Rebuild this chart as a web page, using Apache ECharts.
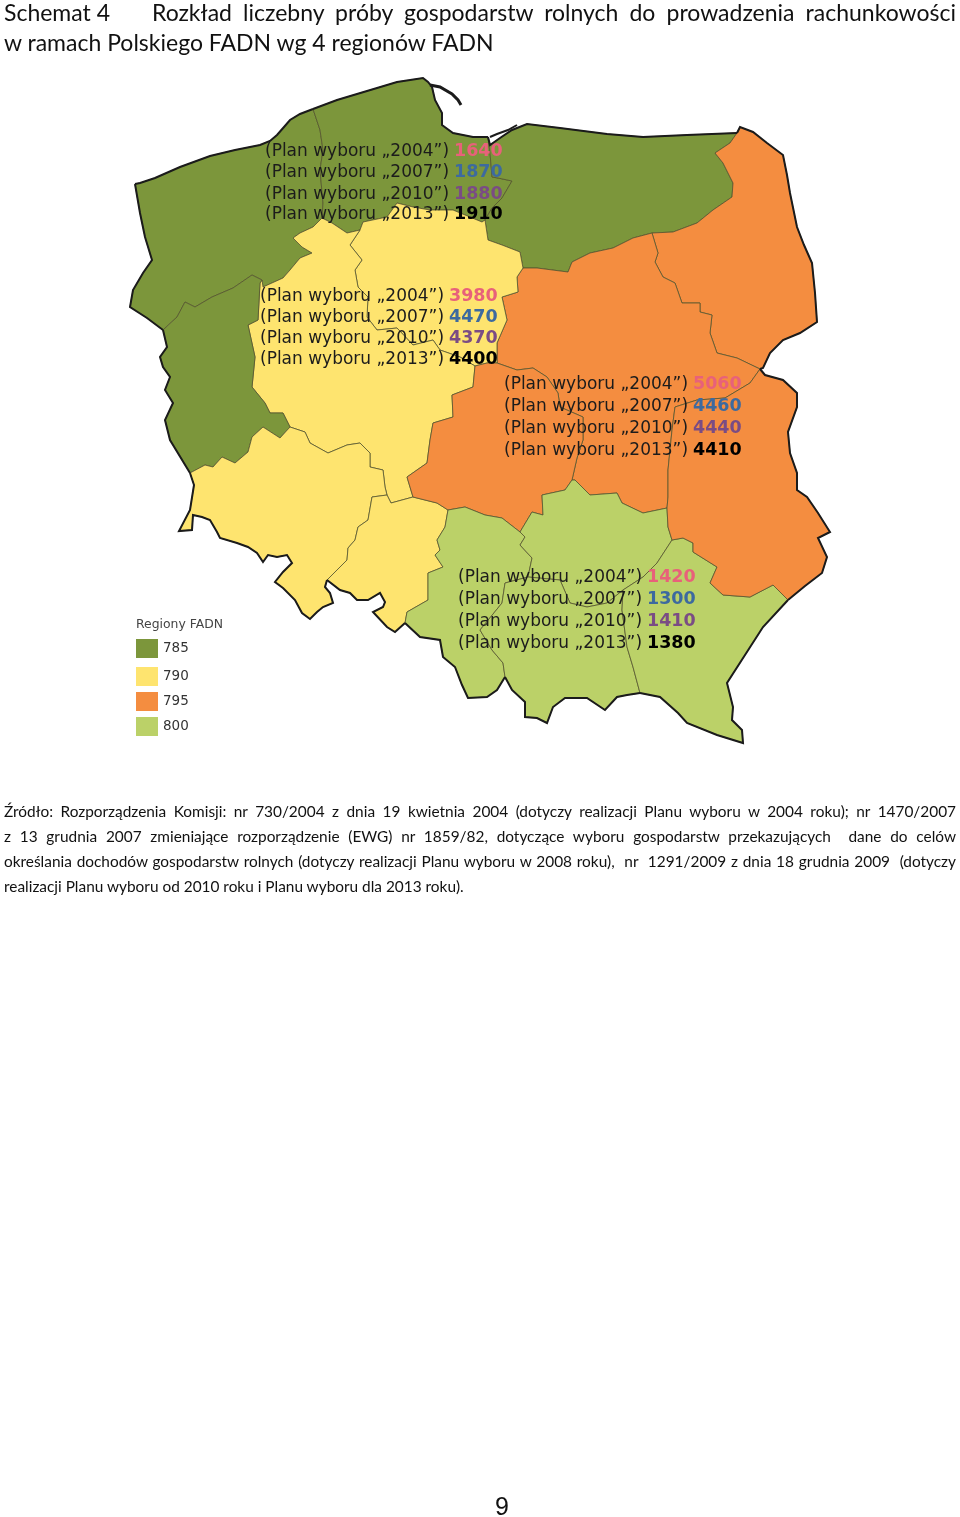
<!DOCTYPE html>
<html lang="pl">
<head>
<meta charset="utf-8">
<title>Schemat 4</title>
<script src="https://cdn.jsdelivr.net/npm/echarts@6/dist/echarts.min.js"></script>
<style>
  html, body { margin: 0; padding: 0; background: #fff; }
  #page { position: relative; width: 960px; height: 1517px; overflow: hidden; font-family: Lato, sans-serif; color: #111; }
  #map { position: absolute; left: 0; top: 0; width: 960px; height: 1517px; }
  .line { position: absolute; margin: 0; white-space: normal; }
  .just { text-align: justify; text-align-last: justify; }
  .title { font-size: 23px; line-height: 30px; }
  .src { left: 4px; width: 952px; font-size: 15.4px; line-height: 25px; }
  #pageNo { position: absolute; left: 495px; top: 1492px; font: 25px "Liberation Sans", sans-serif; }
</style>
</head>
<body>
<div id="page">
  <div id="map"></div>
  <p class="line title" style="left:4px;top:-3px">Schemat 4</p>
  <p class="line title just" style="left:152px;width:804px;top:-3px">Rozkład liczebny próby gospodarstw rolnych do prowadzenia rachunkowości</p>
  <p class="line title" style="left:4px;top:27px">w ramach Polskiego FADN wg 4 regionów FADN</p>
  <p class="line src just" style="top:799px">Źródło: Rozporządzenia Komisji: nr 730/2004 z dnia 19 kwietnia 2004 (dotyczy realizacji Planu wyboru w 2004 roku); nr 1470/2007</p>
  <p class="line src just" style="top:824px">z 13 grudnia 2007 zmieniające rozporządzenie (EWG) nr 1859/82, dotyczące wyboru gospodarstw przekazujących &nbsp;dane do celów</p>
  <p class="line src just" style="top:849px">określania dochodów gospodarstw rolnych (dotyczy realizacji Planu wyboru w 2008 roku), &nbsp;nr &nbsp;1291/2009 z dnia 18 grudnia 2009 &nbsp;(dotyczy</p>
  <p class="line src" style="top:874px">realizacji Planu wyboru od 2010 roku i Planu wyboru dla 2013 roku).</p>
  <div id="pageNo">9</div>
</div>
<script>
// legend + sample sizes
var fadnCodes = ['785', '790', '795', '800'];
var fadnColors = ['#7c963b', '#fee46f', '#f48d40', '#bbd168'];
var planYears = ['2004', '2007', '2010', '2013'];
var planColors = ['#e8617a', '#3d6a9f', '#7a4c84', '#000000'];
var sample785 = [1640, 1870, 1880, 1910];
var sample790 = [3980, 4470, 4370, 4400];
var sample795 = [5060, 4460, 4440, 4410];
var sample800 = [1420, 1300, 1410, 1380];
var sampleSizes = [sample785, sample790, sample795, sample800];

// which voivodeship belongs to which FADN region
var members785 = ['zachodniopomorskie', 'pomorskie', 'warminsko-mazurskie', 'lubuskie'];
var members790 = ['wielkopolskie', 'kujawsko-pomorskie', 'dolnoslaskie', 'opolskie'];
var members795 = ['mazowieckie', 'lodzkie', 'podlaskie', 'lubelskie'];
var members800 = ['slaskie', 'swietokrzyskie', 'malopolskie', 'podkarpackie'];
var members = [members785, members790, members795, members800];

// label row anchors, page pixels (x, y of row middle)
var rows785 = [[265, 151], [265, 172], [265, 194], [265, 214]];
var rows790 = [[260, 296], [260, 317], [260, 338], [260, 359]];
var rows795 = [[504, 384], [504, 406], [504, 428], [504, 450]];
var rows800 = [[458, 577], [458, 599], [458, 621], [458, 643]];
var labelRows = [rows785, rows790, rows795, rows800];
var legendTops = [639, 667, 692, 717];

// shared borders, in page pixels
var coastZach = [[135,184],[140,183],[155,178],[180,167],[210,156],[235,150],[260,145],[270,141],[277,135],[284,127],[290,120],[300,114],[313,109]];
var coastPom = [[313,109],[337,100],[367,91],[397,82],[423,78],[428,82],[432,87],[435,100],[442,113],[442,125],[453,133],[473,137],[488,137]];
var coastWM = [[488,137],[490,145],[500,138],[512,130],[527,124],[560,128],[607,134],[643,137],[687,135],[737,133]];
var eastPodl = [[737,133],[740,127],[753,132],[767,143],[783,155],[787,175],[790,193],[797,227],[804,245],[812,263],[815,293],[817,322],[800,333],[783,340],[770,353],[763,368],[760,369]];
var eastLubel = [[760,369],[765,375],[783,380],[797,393],[797,407],[788,432],[790,453],[797,473],[797,490],[807,497],[818,513],[830,532],[818,538],[827,557],[822,573],[805,586],[788,600]];
var southPodk = [[788,600],[763,627],[745,655],[727,683],[733,707],[732,720],[742,730],[743,743],[717,735],[687,723],[678,713],[660,697],[640,693]];
var southMalop = [[640,693],[627,695],[617,697],[605,710],[587,698],[565,698],[553,707],[547,723],[537,718],[525,717],[525,702],[512,690],[505,677]];
var southSlask = [[505,677],[497,690],[487,697],[468,698],[462,685],[455,667],[443,657],[440,640],[420,637],[405,623]];
var southOpol = [[405,623],[395,632],[387,627],[373,612],[383,607],[385,602],[380,593],[368,600],[357,600],[350,593],[340,590],[327,580]];
var southDolno = [[327,580],[325,587],[330,593],[333,603],[323,607],[317,612],[310,619],[302,613],[295,600],[283,588],[275,582],[283,572],[292,563],[287,555],[277,557],[268,555],[263,562],[257,553],[248,547],[237,543],[220,538],[217,532],[210,520],[202,517],[193,515],[192,530],[179,531],[190,510],[194,485],[190,473]];
var westLubus = [[190,473],[170,440],[165,420],[173,403],[165,390],[170,377],[163,367],[160,357],[167,347],[163,330]];
var westZach = [[163,330],[147,318],[130,307],[133,290],[143,273],[152,260],[145,237],[140,213],[135,184]];

var zpPom = [[313,109],[320,130],[323,150],[320,170],[323,203],[322,218]];
var zpWlkp = [[322,218],[313,227],[300,233],[293,238],[302,247],[312,253],[300,258],[290,270],[283,278],[263,287],[262,280]];
var zpLub = [[262,280],[252,275],[233,288],[212,297],[195,307],[185,302],[177,317],[163,330]];
var pomWm = [[488,137],[490,153],[492,177],[498,178],[512,181],[502,198],[492,208],[485,220]];
var pomKuj = [[485,220],[482,222],[453,210],[430,210],[413,207],[397,203],[387,217],[363,222],[360,230]];
var pomWlkp = [[360,230],[347,233],[332,223],[322,218]];
var wmPodl = [[737,133],[730,143],[715,153],[723,163],[733,183],[732,197],[713,210],[697,223],[673,232],[652,233]];
var wmMaz = [[652,233],[633,238],[613,248],[590,253],[572,262],[568,272],[537,268],[523,268]];
var wmKuj = [[523,268],[520,252],[502,245],[488,240],[485,220]];
var mazPodl = [[652,233],[658,253],[655,262],[663,277],[675,283],[682,303],[700,303],[700,312],[712,315],[710,333],[717,353],[737,358],[760,369]];
var mazLub = [[760,369],[750,383],[735,392],[725,398],[697,400],[675,407],[672,430],[670,450],[668,470],[668,497],[667,508]];
var mazSw = [[667,508],[643,513],[622,503],[617,493],[590,495],[575,480],[572,480]];
var mazLodz = [[572,480],[577,458],[583,440],[583,417],[560,407],[558,393],[547,377],[533,368],[517,370],[497,363]];
var mazKuj = [[497,363],[497,343],[507,320],[502,297],[518,292],[517,277],[523,268]];
var kujLodz = [[497,363],[487,363],[475,366]];
var kujWlkp = [[475,366],[460,357],[440,350],[433,340],[413,345],[397,328],[377,330],[367,317],[368,297],[358,287],[355,270],[362,260],[350,245],[360,230]];
var wlkpLodz = [[475,366],[473,387],[452,395],[453,417],[433,423],[430,440],[427,463],[407,477],[413,497]];
var wlkpOpol = [[413,497],[391,503],[387,495]];
var wlkpDolno = [[387,495],[385,487],[383,470],[370,467],[370,453],[360,443],[347,445],[328,453],[310,443],[305,432],[290,427]];
var wlkpLub = [[290,427],[283,413],[270,413],[265,403],[252,387],[255,357],[248,325],[258,320],[260,283],[262,280]];
var lubDolno = [[290,427],[280,438],[263,427],[252,437],[248,452],[235,463],[222,457],[213,467],[205,465],[190,473]];
var opolDolno = [[387,495],[372,497],[368,520],[358,527],[355,540],[348,548],[347,560],[337,570],[327,580]];
var opolLodz = [[413,497],[437,503],[448,510]];
var opolSl = [[448,510],[445,527],[437,540],[440,550],[435,555],[443,567],[428,573],[428,600],[407,612],[405,623]];
var lodzSl = [[448,510],[465,507],[485,515],[502,518],[520,532]];
var lodzSw = [[520,532],[532,512],[543,515],[542,495],[565,490],[572,480]];
var slSw = [[520,532],[525,537],[520,545],[532,558],[528,577]];
var slMal = [[528,577],[505,583],[502,603],[480,630],[492,650],[503,663],[505,677]];
var swMal = [[528,577],[560,580],[570,603],[587,607],[607,603],[623,590]];
var swLub = [[667,508],[668,527],[672,540]];
var swPod = [[672,540],[657,563],[643,577],[623,590]];
var malPod = [[623,590],[622,610],[627,647],[633,667],[640,693]];
var lubPod = [[672,540],[683,538],[693,543],[693,552],[717,567],[710,583],[723,595],[750,597],[773,585],[788,600]];

// Hel and the Vistula spit, drawn on their own
var helSpit = [[430,85],[440,87],[452,94],[458,100],[461,105]];
var vistulaSpit = [[490,137],[497,134],[508,130],[517,125]];

function rev(edge) { return edge.slice().reverse(); }

// polygons walked clockwise out of the shared borders
var shapes = {
  'zachodniopomorskie': [coastZach, zpPom, zpWlkp, zpLub, westZach],
  'pomorskie': [coastPom, pomWm, pomKuj, pomWlkp, rev(zpPom)],
  'warminsko-mazurskie': [coastWM, wmPodl, wmMaz, wmKuj, rev(pomWm)],
  'podlaskie': [eastPodl, rev(mazPodl), rev(wmPodl)],
  'mazowieckie': [rev(wmMaz), mazPodl, mazLub, mazSw, mazLodz, mazKuj],
  'kujawsko-pomorskie': [rev(pomKuj), rev(wmKuj), rev(mazKuj), kujLodz, kujWlkp],
  'wielkopolskie': [rev(zpWlkp), rev(pomWlkp), rev(kujWlkp), wlkpLodz, wlkpOpol, wlkpDolno, wlkpLub],
  'lubuskie': [rev(zpLub), rev(wlkpLub), lubDolno, westLubus],
  'dolnoslaskie': [rev(lubDolno), rev(wlkpDolno), opolDolno, southDolno],
  'opolskie': [rev(wlkpOpol), opolLodz, opolSl, southOpol, rev(opolDolno)],
  'lodzkie': [rev(kujLodz), rev(mazLodz), rev(lodzSw), rev(lodzSl), rev(opolLodz), rev(wlkpLodz)],
  'slaskie': [lodzSl, slSw, slMal, southSlask, rev(opolSl)],
  'swietokrzyskie': [lodzSw, rev(mazSw), swLub, swPod, rev(swMal), rev(slSw)],
  'malopolskie': [swMal, malPod, southMalop, rev(slMal)],
  'podkarpackie': [lubPod, southPodk, rev(malPod), rev(swPod)],
  'lubelskie': [eastLubel, rev(lubPod), rev(swLub), rev(mazLub)]
};

function toGeo(points) {
  return points.map(function (p) { return [p[0], -p[1]]; });
}

var features = Object.keys(shapes).map(function (name) {
  var ring = [].concat.apply([], shapes[name]);
  ring.push(ring[0]);
  return {
    type: 'Feature',
    properties: { name: name },
    geometry: { type: 'Polygon', coordinates: [toGeo(ring)] }
  };
});
echarts.registerMap('fadn', { type: 'FeatureCollection', features: features });

var regionStyles = [];
members.forEach(function (list, i) {
  list.forEach(function (name) {
    regionStyles.push({ name: name, itemStyle: { areaColor: fadnColors[i] } });
  });
});

var richStyles = { p: { width: 189, padding: [2, 0, 0, 0], fontFamily: 'DejaVu Sans', fontSize: 17, color: '#1c1c1c' } };
planColors.forEach(function (color, i) {
  richStyles['v' + i] = { fontFamily: 'DejaVu Sans', fontSize: 17.5, fontWeight: 'bold', color: color };
});

var outline = [coastZach, coastPom, coastWM, eastPodl, eastLubel, southPodk, southMalop, southSlask, southOpol, southDolno, westLubus, westZach, vistulaSpit];

var series = [{
  type: 'lines',
  coordinateSystem: 'geo',
  polyline: true,
  silent: true,
  lineStyle: { color: '#1b1b1b', width: 2, opacity: 1 },
  data: outline.map(function (edge) { return { coords: toGeo(edge) }; }).concat({
    coords: toGeo(helSpit),
    lineStyle: { width: 3 }
  })
}];

fadnCodes.forEach(function (code, i) {
  series.push({
    name: code,
    type: 'scatter',
    coordinateSystem: 'geo',
    symbolSize: 0,
    silent: true,
    z: 5,
    itemStyle: { color: fadnColors[i], opacity: 1 },
    label: {
      show: true,
      position: 'right',
      distance: 0,
      rich: richStyles,
      formatter: function (params) {
        var k = params.dataIndex;
        return '{p|(Plan wyboru „' + planYears[k] + '”)}{v' + k + '|' + sampleSizes[i][k] + '}';
      }
    },
    data: labelRows[i].map(function (row) { return toGeo([row])[0]; })
  });
});

var chart = echarts.init(document.getElementById('map'));
chart.setOption({
  animation: false,
  graphic: [{
    type: 'text',
    left: 136,
    top: 619,
    style: { text: 'Regiony FADN', font: '12.4px "DejaVu Sans"', fill: '#444' }
  }],
  legend: fadnCodes.map(function (code, i) {
    return {
      data: [code],
      left: 136,
      top: legendTops[i],
      padding: 0,
      icon: 'rect',
      itemWidth: 22,
      itemHeight: 19,
      itemGap: 0,
      selectedMode: false,
      textStyle: { fontFamily: 'DejaVu Sans', fontSize: 13.5, color: '#333', padding: [4, 0, 0, 0] }
    };
  }),
  geo: {
    map: 'fadn',
    roam: false,
    silent: true,
    left: 0,
    top: 0,
    width: 960,
    height: 1517,
    aspectScale: 1,
    boundingCoords: [[0, 0], [960, -1517]],
    label: { show: false },
    itemStyle: { areaColor: '#ffffff', borderColor: '#55552f', borderWidth: 0.8 },
    regions: regionStyles
  },
  series: series
});
</script>
</body>
</html>
